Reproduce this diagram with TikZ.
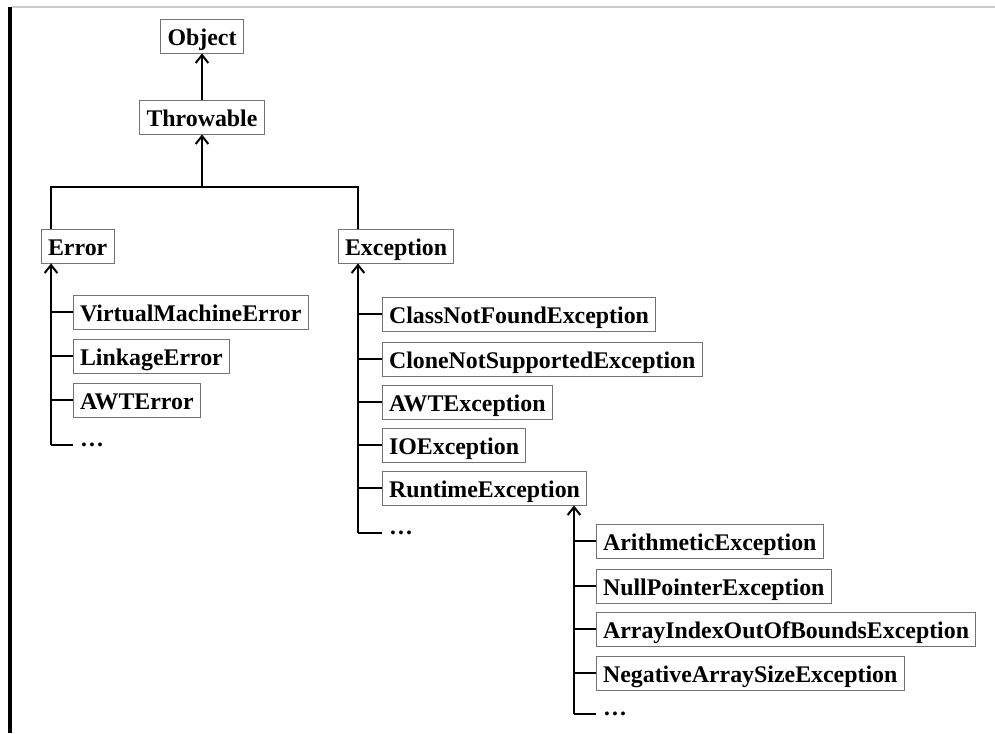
\documentclass[tikz,border=0pt]{standalone}
\usepackage{fontspec}
\setmainfont{Liberation Serif}
\usetikzlibrary{arrows.meta}
\tikzset{
  cls/.style={draw=black!55, line width=0.6pt, fill=white, font=\fontsize{17.9}{20}\selectfont\bfseries,
    inner xsep=5pt, inner ysep=0pt, text height=20pt, text depth=5.5pt},
  more/.style={cls, draw=none, fill=none, text height=2pt, text depth=0pt},
  conn/.style={line width=1.8pt, black},
  up/.style={conn, -{Straight Barb[length=6pt, width=9.5pt, line width=1.5pt]}}
}
\begin{document}
\begin{tikzpicture}[x=0.75pt, y=-0.75pt]
  \useasboundingbox (0,0) rectangle (995,733);
  % frame
  \fill[black] (8,7) rectangle (12,733);
  \draw[black!20, line width=1.2pt] (12,7) -- (995,7);

  \node[cls] (obj) at (202,36) {Object};
  \node[cls] (thr) at (202,117) {Throwable};
  \node[cls, anchor=west] (err) at (41,246) {Error};
  \node[cls, anchor=west] (exc) at (338,246) {Exception};

  \coordinate (bus) at (202,187);
  \coordinate (errend) at (51,445);
  \coordinate (excend) at (358,533);
  \coordinate (rtend) at (574,714);

  \draw[up] (thr) -- (obj);
  \draw[up] (bus) -- (thr);
  \draw[conn] (err.north -| errend) |- (bus) -| (exc.north -| excend);

  % Error subclasses
  \node[cls, anchor=west] (vme) at (73,312) {VirtualMachineError};
  \node[cls, anchor=west] (link) at (73,356) {LinkageError};
  \node[cls, anchor=west] (awte) at (73,400) {AWTError};
  \node[more, anchor=west] (errdots) at (73,445) {…};
  \draw[up] (errend) -- (err.south -| errend);
  \draw[conn] (errend) -- (errdots.west);
  \foreach \n in {vme,link,awte}
    \draw[conn] (errend |- \n.west) -- (\n.west);

  % Exception subclasses
  \node[cls, anchor=west] (cnf) at (382,314) {ClassNotFoundException};
  \node[cls, anchor=west] (cns) at (382,359) {CloneNotSupportedException};
  \node[cls, anchor=west] (awtx) at (382,402) {AWTException};
  \node[cls, anchor=west] (io) at (382,445) {IOException};
  \node[cls, anchor=west] (rt) at (382,488) {RuntimeException};
  \node[more, anchor=west] (excdots) at (382,533) {…};
  \draw[up] (excend) -- (exc.south -| excend);
  \draw[conn] (excend) -- (excdots.west);
  \foreach \n in {cnf,cns,awtx,io,rt}
    \draw[conn] (excend |- \n.west) -- (\n.west);

  % RuntimeException subclasses
  \node[cls, anchor=west] (ari) at (596,541) {ArithmeticException};
  \node[cls, anchor=west] (npe) at (596,586) {NullPointerException};
  \node[cls, anchor=west] (aio) at (596,629) {ArrayIndexOutOfBoundsException};
  \node[cls, anchor=west] (nas) at (596,673) {NegativeArraySizeException};
  \node[more, anchor=west] (rtdots) at (596,714) {…};
  \draw[up] (rtend) -- (rt.south -| rtend);
  \draw[conn] (rtend) -- (rtdots.west);
  \foreach \n in {ari,npe,aio,nas}
    \draw[conn] (rtend |- \n.west) -- (\n.west);
\end{tikzpicture}
\end{document}
